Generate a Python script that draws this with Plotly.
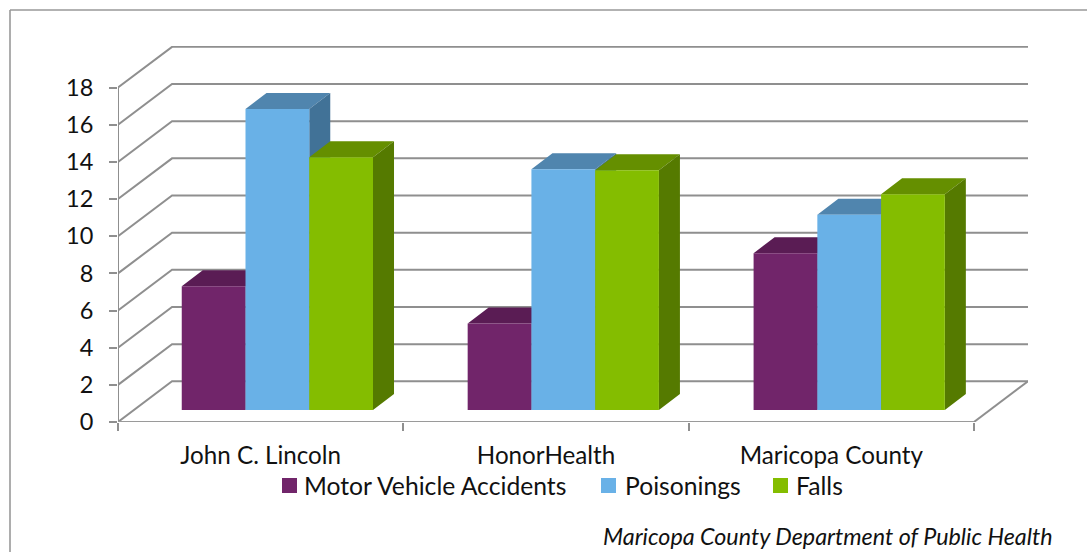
import plotly.graph_objects as go

categories = ["John C. Lincoln", "HonorHealth", "Maricopa County"]
series_names = ["Motor Vehicle Accidents", "Poisonings", "Falls"]
motor_vehicle = [6.65, 4.65, 8.43]
poisonings = [16.2, 12.95, 10.5]
falls = [13.6, 12.9, 11.6]
y_ticks = list(range(0, 20, 2))

W, H = 1087, 552
L, R, T, B = 118, 59, 46, 130
PX_X = 285.1          # px per category
PX_Y = 18.58          # px per value unit
plot_w, plot_h = W - L - R, H - T - B
wall_dx, wall_dy = 54 / PX_X, 40.7 / PX_Y
base = 12.1 / PX_Y
bar_w = 63.7 / PX_X
bar_pitch = 285.7 / PX_X
bar_dx, bar_dy = 21 / PX_X, 16 / PX_Y

front = ["#71256A", "#69B1E7", "#84BD00"]
top_c = ["#5A1C54", "#5085AE", "#658F00"]
side_c = ["#4D1948", "#417297", "#557A00"]
GRID = "#8F8F8F"
FONT = "Lato"
swatch_left_px = [282, 601, 773]
legend_text_px = [303, 624, 795]


def px(x):
    return (x - L) / plot_w


def py(y):
    return (H - B - y) / plot_h


fig = go.Figure()


def line(xs, ys, width=2, color=GRID):
    fig.add_trace(go.Scatter(x=xs, y=ys, mode="lines", showlegend=False, hoverinfo="skip",
                             line=dict(color=color, width=width), cliponaxis=False))


n = len(categories)
for t in y_ticks:
    line([0, wall_dx, n + wall_dx], [t, t + wall_dy, t + wall_dy])
line([n, n + wall_dx], [0, wall_dy])
line([0, 0], [0, max(y_ticks)])
line([0, n], [0, 0], color="#9A9A9A")

data = [motor_vehicle, poisonings, falls]
for j, vals in enumerate(data):
    tx, ty, sx, sy = [], [], [], []
    for i, v in enumerate(vals):
        x0 = i * bar_pitch + bar_w * (1 + j)
        x1 = x0 + bar_w
        tx += [x0, x0 + bar_dx, x1 + bar_dx, x1, x0, None]
        ty += [base + v, base + v + bar_dy, base + v + bar_dy, base + v, base + v, None]
        sx += [x1, x1 + bar_dx, x1 + bar_dx, x1, x1, None]
        sy += [base, base + bar_dy, base + v + bar_dy, base + v, base, None]
    for xs, ys, c in ((tx, ty, top_c[j]), (sx, sy, side_c[j])):
        fig.add_trace(go.Scatter(x=xs, y=ys, mode="lines", fill="toself", fillcolor=c,
                                 line=dict(width=0, color=c), showlegend=False, hoverinfo="skip"))

for j, vals in enumerate(data):
    fig.add_trace(go.Bar(x=[i * bar_pitch + bar_w * (1.5 + j) for i in range(n)], y=vals, base=base, width=bar_w,
                         marker=dict(color=front[j], line=dict(width=0)), showlegend=False,
                         name=series_names[j], xaxis="x2", yaxis="y2"))

x_range = [0, n + wall_dx]
y_range = [0, plot_h / PX_Y]

annotations = [dict(text="<i>Maricopa County Department of Public Health</i>", xref="paper", yref="paper",
                    x=px(1055), y=py(536), xanchor="right", yanchor="middle",
                    showarrow=False, font=dict(size=23.3))]
shapes = [dict(type="line", xref="paper", yref="paper", x0=px(10), x1=px(W), y0=py(10), y1=py(10),
               line=dict(color="#999999", width=1.6)),
          dict(type="line", xref="paper", yref="paper", x0=px(10), x1=px(10), y0=py(10), y1=py(H),
               line=dict(color="#999999", width=1.6))]
for j, name in enumerate(series_names):
    shapes.append(dict(type="rect", xref="paper", yref="paper", x0=px(swatch_left_px[j]),
                       x1=px(swatch_left_px[j] + 15), y0=py(478), y1=py(493),
                       fillcolor=front[j], line=dict(width=0)))
    annotations.append(dict(text=name, xref="paper", yref="paper", x=px(legend_text_px[j] - 1), y=py(485),
                            xanchor="left", yanchor="middle", showarrow=False, font=dict(size=24.7)))

fig.update_layout(
    width=W, height=H, autosize=False,
    margin=dict(l=L, r=R, t=T, b=B),
    paper_bgcolor="white", plot_bgcolor="white",
    font=dict(family=FONT, size=24.2, color="#111111"),
    barmode="overlay",
    showlegend=False,
    xaxis=dict(range=x_range, tickmode="array", tickvals=[i + 0.5 for i in range(n)], ticktext=categories,
               ticks="", showgrid=False, zeroline=False, showline=False, ticklabelstandoff=17,
               minor=dict(tickmode="array", tickvals=list(range(n + 1)), ticks="outside", ticklen=8,
                          tickwidth=2, tickcolor=GRID, showgrid=False)),
    yaxis=dict(range=y_range, tickmode="array", tickvals=y_ticks, ticks="outside", ticklen=8, tickwidth=2,
               tickcolor=GRID, showgrid=False, zeroline=False, showline=False, ticklabelstandoff=11,
               tickfont=dict(size=23.5)),
    xaxis2=dict(range=x_range, overlaying="x", visible=False),
    yaxis2=dict(range=y_range, overlaying="y", visible=False),
    annotations=annotations,
    shapes=shapes,
)
fig.write_html("out.html", config={"displayModeBar": False},
               post_script="document.body.style.margin='0';document.body.style.overflow='hidden';")
